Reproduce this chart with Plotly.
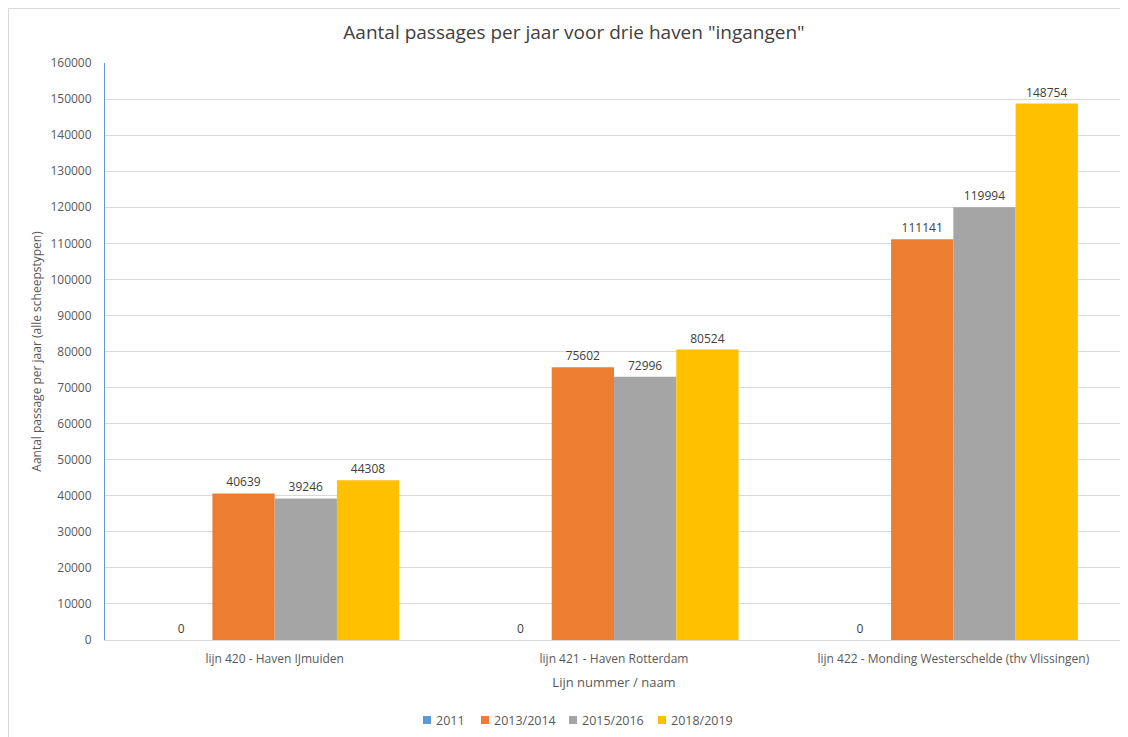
import plotly.graph_objects as go

categories = ["lijn 420 - Haven IJmuiden", "lijn 421 - Haven Rotterdam", "lijn 422 - Monding Westerschelde (thv Vlissingen)"]
series_names = ["2011", "2013/2014", "2015/2016", "2018/2019"]
values_2011 = [0, 0, 0]
values_2013 = [40639, 75602, 111141]
values_2015 = [39246, 72996, 119994]
values_2018 = [44308, 80524, 148754]
colors = ["#5B9BD5", "#ED7D31", "#A5A5A5", "#FFC000"]

FONT = "Open Sans"
fig = go.Figure()
for name, vals, col in zip(series_names, [values_2011, values_2013, values_2015, values_2018], colors):
    fig.add_trace(go.Bar(
        x=categories, y=vals, name=name, marker=dict(color=col, line=dict(width=0)),
        text=[str(v) for v in vals], textposition="outside", cliponaxis=False, showlegend=False,
        textfont=dict(size=12, color="#404040", family=FONT),
    ))

# page has an 8px body margin: figure coords = screen coords - 8
OFF = 8
FW, FH = 1120, 729
L, R, T, B = 105 - OFF, 1123 - OFF, 63 - OFF, 640 - OFF
W, H = R - L, B - T
def px(x):
    return (x - OFF - L) / W
def py(y):
    return (B - (y - OFF)) / H

legend_x = [423, 481, 569, 658]
legend_y = 720
shapes = [dict(type="rect", xref="paper", yref="paper", x0=px(8.5), x1=px(1140), y0=py(760), y1=py(8.5),
               line=dict(color="#D9D9D9", width=1), fillcolor="rgba(0,0,0,0)", layer="below")]
annotations = []
for lx, name, col in zip(legend_x, series_names, colors):
    shapes.append(dict(type="rect", xref="paper", yref="paper", x0=px(lx), x1=px(lx + 8),
                       y0=py(legend_y + 4), y1=py(legend_y - 4), line=dict(width=0), fillcolor=col))
    annotations.append(dict(xref="paper", yref="paper", x=px(lx + 11), y=py(legend_y), text=name,
                            showarrow=False, xanchor="left", yanchor="middle",
                            font=dict(size=12.5, color="#595959", family=FONT)))

fig.update_layout(
    width=FW, height=FH,
    margin=dict(l=L, r=FW - R, t=T, b=FH - B),
    paper_bgcolor="white", plot_bgcolor="white",
    barmode="group", bargap=0.266, bargroupgap=0,
    font=dict(family=FONT, color="#595959", size=12),
    showlegend=False,
    title=dict(text='Aantal passages per jaar voor drie haven "ingangen"', x=(574 - OFF) / FW, xanchor="center",
               y=1 - (32 - OFF) / FH, yanchor="middle", font=dict(size=19, color="#404040")),
    xaxis=dict(title=dict(text="Lijn nummer / naam", font=dict(size=13, color="#595959"), standoff=11),
               automargin=False, ticklabelstandoff=8,
               showline=True, linecolor="#D9D9D9", linewidth=1, ticks="", tickfont=dict(size=12, color="#595959")),
    yaxis=dict(title=dict(text="Aantal passage per jaar (alle scheepstypen)", font=dict(size=12, color="#595959"), standoff=6),
               automargin=False, ticklabelstandoff=10,
               range=[0, 160000], dtick=10000, gridcolor="#D9D9D9", gridwidth=1, showline=True,
               linecolor="#5B9BD5", linewidth=1, tickformat="d", zeroline=False,
               tickfont=dict(size=12, color="#595959")),
    shapes=shapes,
    annotations=annotations,
)

fig.write_html("out.html")
